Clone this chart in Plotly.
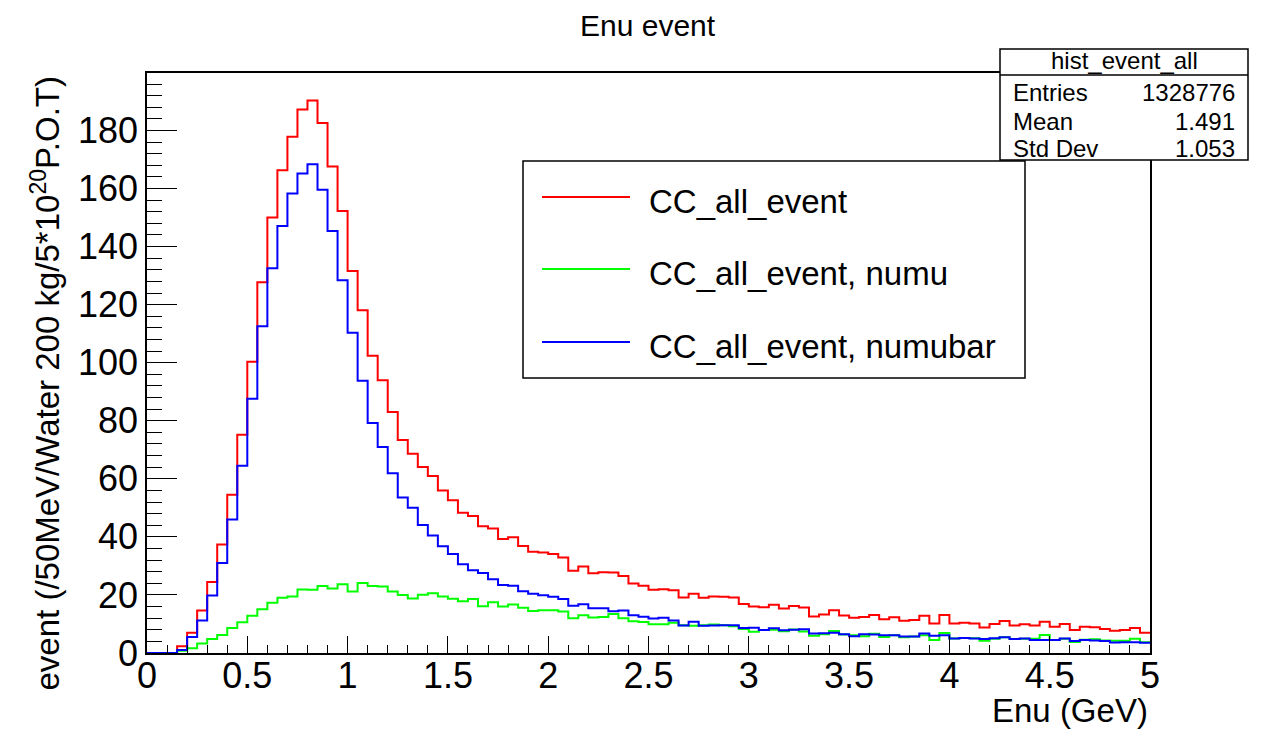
import numpy as np
import plotly.graph_objects as go

# ---- data: 100 bins of 50 MeV from 0 to 5 GeV ----
bin_lo, bin_hi, n_bins = 0.0, 5.0, 100

cc_all = [0, 0, 0, 2.3, 7.0, 14.6, 24.5, 37.4, 54.5, 75.2,
          100.3, 127.7, 150.0, 166.3, 177.8, 187.2, 190.3, 182.6, 167.6, 152.3,
          131.6, 118.1, 102.4, 94.0, 83.0, 73.4, 68.6, 64.1, 61.0, 56.0,
          52.6, 48.3, 47.2, 43.7, 42.9, 39.3, 39.9, 36.9, 34.9, 34.6,
          34.1, 32.9, 28.3, 29.8, 27.5, 27.8, 27.7, 26.5, 23.9, 23.2,
          21.8, 22.0, 21.6, 19.1, 20.4, 19.0, 19.5, 19.4, 19.1, 16.9,
          16.0, 15.8, 16.6, 15.3, 16.2, 15.7, 12.6, 13.3, 14.7, 12.9,
          12.1, 12.4, 13.1, 11.6, 12.3, 11.1, 11.4, 12.8, 10.2, 13.1,
          10.2, 10.4, 10.2, 8.8, 10.0, 11.0, 9.5, 9.9, 9.5, 10.8,
          9.0, 10.0, 7.9, 9.0, 8.9, 8.3, 7.7, 7.9, 8.6, 7.0]

cc_numu = [0, 0, 0, 0.8, 1.6, 3.3, 4.8, 6.2, 8.6, 10.6,
           12.8, 15.1, 17.3, 19.0, 19.5, 21.9, 21.8, 23.1, 22.2, 23.7,
           21.2, 24.1, 23.1, 22.9, 21.2, 20.0, 18.8, 20.1, 20.6, 19.5,
           18.7, 17.8, 18.6, 16.1, 17.5, 16.0, 16.7, 15.6, 14.5, 14.7,
           14.7, 14.3, 12.0, 13.0, 12.2, 12.4, 13.4, 12.0, 10.9, 10.7,
           9.9, 9.9, 10.4, 9.6, 9.4, 9.6, 9.8, 9.6, 9.2, 8.3,
           7.3, 7.9, 8.0, 7.5, 8.1, 7.4, 5.9, 6.5, 7.6, 6.4,
           6.1, 5.8, 6.6, 5.5, 6.1, 5.4, 5.7, 6.1, 4.5, 6.9,
           5.0, 5.2, 5.1, 4.2, 4.9, 5.4, 4.8, 4.9, 4.9, 6.2,
           4.5, 4.9, 3.8, 4.6, 4.7, 4.3, 4.2, 4.2, 4.9, 3.7]

cc_numubar = [0, 0, 0, 1.0, 5.5, 11.2, 19.8, 31.0, 46.0, 64.5,
              87.6, 112.6, 132.5, 147.1, 158.3, 165.2, 168.4, 159.6, 145.4, 128.4,
              110.3, 93.8, 79.2, 71.0, 61.9, 53.6, 50.0, 44.1, 40.5, 36.8,
              34.1, 30.6, 28.5, 27.6, 25.4, 23.4, 23.2, 21.3, 20.4, 19.9,
              19.4, 18.6, 16.3, 16.8, 15.4, 15.4, 14.4, 14.6, 13.0, 12.5,
              11.9, 12.1, 11.2, 9.5, 10.8, 9.4, 9.5, 9.6, 9.6, 8.6,
              8.7, 7.9, 8.5, 7.8, 8.0, 8.2, 6.7, 6.8, 7.0, 6.5,
              5.8, 6.5, 6.4, 6.1, 6.1, 5.7, 5.7, 6.7, 5.9, 6.1,
              5.0, 5.2, 5.0, 4.8, 5.1, 5.4, 4.8, 5.0, 4.5, 4.5,
              4.5, 5.0, 4.1, 4.5, 4.3, 4.1, 3.6, 3.7, 3.7, 3.5]

series_names = ["CC_all_event", "CC_all_event, numu", "CC_all_event, numubar"]
series_colors = ["#ff0000", "#00ff00", "#0000ff"]

stats_title = "hist_event_all"
stats_labels = ["Entries", "Mean", "Std Dev"]
stats_values = ["1328776", "1.491", "1.053"]

FONT = "Liberation Sans, Arial, Helvetica, sans-serif"

# ---- figure geometry (pixels) ----
W, H = 1274, 729
ML, MR, MT, MB = 147, 124, 73, 76
PW, PH = W - ML - MR, H - MT - MB


def px(x):
    return (x - ML) / PW


def py(y):
    return (H - MB - y) / PH


edges = np.linspace(bin_lo, bin_hi, n_bins + 1)

fig = go.Figure()
for vals, name, col in zip([cc_all, cc_numu, cc_numubar], series_names, series_colors):
    yv = list(vals) + [vals[-1]]
    fig.add_trace(go.Scatter(x=edges, y=yv, mode="lines", name=name,
                             line=dict(color=col, width=2, shape="hv"),
                             showlegend=False, hoverinfo="skip"))

fig.update_layout(
    width=W, height=H, autosize=False,
    margin=dict(l=ML, r=MR, t=MT, b=MB, pad=0),
    paper_bgcolor="white", plot_bgcolor="white",
    font=dict(family=FONT, color="black"),
    showlegend=False,
)

fig.update_xaxes(
    range=[bin_lo, bin_hi], showgrid=False, zeroline=False,
    showline=True, linecolor="black", linewidth=1.5, mirror=True,
    ticks="inside", ticklen=17, tickwidth=1, tickcolor="black",
    tickmode="linear", tick0=0, dtick=0.5,
    tickfont=dict(size=36, family=FONT),
    ticklabelstandoff=-10,
    minor=dict(ticks="inside", ticklen=8, tickwidth=1, tickcolor="black",
               dtick=0.1, tick0=0, showgrid=False),
)
fig.update_yaxes(
    range=[0, 199.8], showgrid=False, zeroline=False,
    showline=True, linecolor="black", linewidth=1.5, mirror=True,
    ticks="inside", ticklen=30, tickwidth=1, tickcolor="black",
    tickmode="linear", tick0=0, dtick=20,
    tickfont=dict(size=36, family=FONT),
    minor=dict(ticks="inside", ticklen=15, tickwidth=1, tickcolor="black",
               dtick=4, tick0=0, showgrid=False),
)

annotations = []
shapes = []

# title
annotations.append(dict(text="Enu event", x=px(648), y=py(25), xref="paper", yref="paper",
                        showarrow=False, font=dict(size=30, family=FONT),
                        xanchor="center", yanchor="middle"))
# x axis title
annotations.append(dict(text="Enu (GeV)", x=px(1150), y=py(710), xref="paper", yref="paper",
                        showarrow=False, font=dict(size=33, family=FONT),
                        xanchor="right", yanchor="middle"))
# y axis title
annotations.append(dict(text="event (/50MeV/Water 200 kg/5*10<sup>20</sup>P.O.T)",
                        x=px(45), y=py(74), xref="paper", yref="paper",
                        showarrow=False, font=dict(size=33, family=FONT), textangle=-90,
                        xanchor="center", yanchor="top"))

# stats box
shapes.append(dict(type="rect", xref="paper", yref="paper", layer="above",
                   x0=px(1000), x1=px(1248), y0=py(160), y1=py(49),
                   line=dict(color="black", width=1.5), fillcolor="white"))
shapes.append(dict(type="line", xref="paper", yref="paper", layer="above",
                   x0=px(1000), x1=px(1248), y0=py(75), y1=py(75),
                   line=dict(color="black", width=1.5)))
annotations.append(dict(text=stats_title, x=px(1124), y=py(61), xref="paper", yref="paper",
                        showarrow=False, font=dict(size=24, family=FONT),
                        xanchor="center", yanchor="middle"))
for lab, val, yy in zip(stats_labels, stats_values, [92, 121, 148]):
    annotations.append(dict(text=lab, x=px(1011), y=py(yy), xref="paper", yref="paper",
                            showarrow=False, font=dict(size=24, family=FONT),
                            xanchor="left", yanchor="middle"))
    annotations.append(dict(text=val, x=px(1237), y=py(yy), xref="paper", yref="paper",
                            showarrow=False, font=dict(size=24, family=FONT),
                            xanchor="right", yanchor="middle"))

# legend box
shapes.append(dict(type="rect", xref="paper", yref="paper", layer="above",
                   x0=px(523), x1=px(1025), y0=py(378), y1=py(161),
                   line=dict(color="black", width=1.5), fillcolor="white"))
for name, col, yy in zip(series_names, series_colors, [197, 269, 342]):
    shapes.append(dict(type="line", xref="paper", yref="paper", layer="above",
                       x0=px(542), x1=px(630), y0=py(yy), y1=py(yy),
                       line=dict(color=col, width=2)))
    annotations.append(dict(text=name, x=px(647), y=py(yy + 4), xref="paper", yref="paper",
                            showarrow=False, font=dict(size=33, family=FONT),
                            xanchor="left", yanchor="middle"))

fig.update_layout(annotations=annotations, shapes=shapes)
fig.write_html("out.html")
